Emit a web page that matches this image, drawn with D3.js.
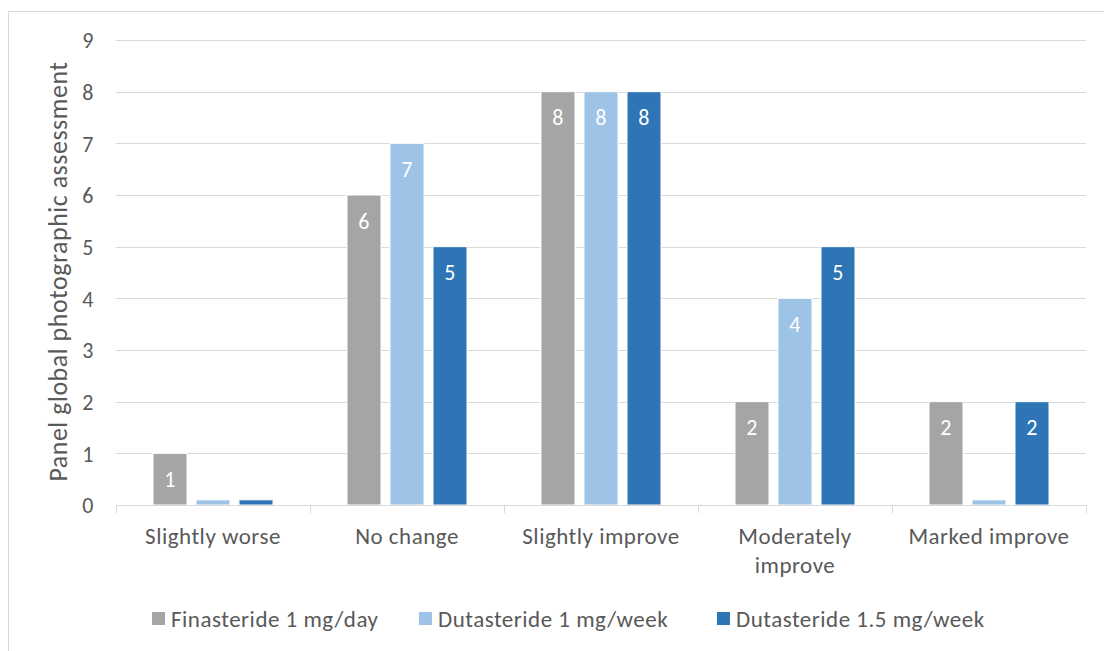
<!DOCTYPE html>
<html>
<head>
<meta charset="utf-8">
<script src="https://cdn.jsdelivr.net/npm/d3@7"></script>
<style>
  html, body { margin: 0; padding: 0; background: #ffffff; }
  svg { display: block; }
  text { font-family: Carlito, Calibri, Lato, "Open Sans", sans-serif; letter-spacing: 0.5px; }
</style>
</head>
<body>
<svg id="chart" width="1104" height="651"></svg>
<script>
// Response categories on the x axis
const categories = [
  ["Slightly worse"],
  ["No change"],
  ["Slightly improve"],
  ["Moderately", "improve"],
  ["Marked improve"]
];
const seriesNames = ["Finasteride 1 mg/day", "Dutasteride 1 mg/week", "Dutasteride 1.5 mg/week"];
const seriesColors = ["#a5a5a5", "#9dc3e6", "#2e75b6"];
// Counts per category; zero counts are drawn as a thin stub and left unlabeled
const finasteride1 = [1, 6, 8, 2, 2];
const dutasteride1 = [0, 7, 8, 4, 0];
const dutasteride15 = [0, 5, 8, 5, 2];
const yTicks = [0, 1, 2, 3, 4, 5, 6, 7, 8, 9];
const yLabel = "Panel global photographic assessment";

const series = [finasteride1, dutasteride1, dutasteride15];
const svg = d3.select("#chart");

// chart frame
svg.append("rect")
  .attr("x", 8.5).attr("y", 11.5)
  .attr("width", 1110).attr("height", 660)
  .attr("fill", "none").attr("stroke", "#d9d9d9").attr("stroke-width", 1);

const plot = { left: 116, right: 1086, top: 40, bottom: 505 };

const x0 = d3.scaleBand()
  .domain(d3.range(categories.length))
  .range([plot.left, plot.right])
  .paddingInner(0).paddingOuter(0);

const x1 = d3.scaleBand()
  .domain(d3.range(series.length))
  .range([37, x0.bandwidth() - 37])
  .paddingInner(9 / 43).paddingOuter(0);

const y = d3.scaleLinear().domain([0, 9]).range([plot.bottom, plot.top]);

// horizontal gridlines
svg.append("g")
  .selectAll("line")
  .data(yTicks.filter(t => t > 0))
  .join("line")
  .attr("x1", plot.left).attr("x2", plot.right)
  .attr("y1", d => Math.round(y(d)) + 0.5).attr("y2", d => Math.round(y(d)) + 0.5)
  .attr("stroke", "#d9d9d9").attr("stroke-width", 1);

// y axis labels
const yAxis = d3.axisLeft(y).tickValues(yTicks).tickSize(0).tickPadding(0);
const yg = svg.append("g").attr("transform", `translate(${plot.left - 22},0)`).call(yAxis);
yg.select(".domain").remove();
yg.selectAll("text")
  .attr("fill", "#595959")
  .style("font-family", "Carlito, Calibri, Lato, sans-serif")
  .style("font-size", "22px")
  .attr("dy", "0.35em");

// bars
const groups = svg.append("g")
  .selectAll("g")
  .data(series)
  .join("g")
  .attr("fill", (d, i) => seriesColors[i]);

groups.each(function (vals, si) {
  const g = d3.select(this);
  vals.forEach((v, ci) => {
    const shown = v === 0 ? 0.1 : v;
    const bx = x0(ci) + x1(si);
    g.append("rect")
      .attr("x", bx)
      .attr("y", y(shown))
      .attr("width", x1.bandwidth())
      .attr("height", y(0) - y(shown))
      .attr("stroke", "#ffffff")
      .attr("stroke-width", 1);
    if (v > 0) {
      g.append("text")
        .attr("x", bx + x1.bandwidth() / 2)
        .attr("y", y(v) + 26)
        .attr("dy", "0.35em")
        .attr("text-anchor", "middle")
        .attr("fill", "#ffffff")
        .style("font-size", "22px")
        .text(v);
    }
  });
});

// x axis line and category separators
const xg = svg.append("g");
xg.append("line")
  .attr("x1", plot.left).attr("x2", plot.right)
  .attr("y1", plot.bottom + 0.5).attr("y2", plot.bottom + 0.5)
  .attr("stroke", "#d9d9d9").attr("stroke-width", 1);
xg.selectAll("line.sep")
  .data(d3.range(categories.length + 1))
  .join("line")
  .attr("class", "sep")
  .attr("x1", i => Math.round(plot.left + i * x0.bandwidth()) + 0.5)
  .attr("x2", i => Math.round(plot.left + i * x0.bandwidth()) + 0.5)
  .attr("y1", plot.bottom).attr("y2", plot.bottom + 8)
  .attr("stroke", "#d9d9d9").attr("stroke-width", 1);

// category labels
xg.selectAll("text.cat")
  .data(categories)
  .join("text")
  .attr("class", "cat")
  .attr("x", (d, i) => x0(i) + x0.bandwidth() / 2)
  .attr("y", 544)
  .attr("text-anchor", "middle")
  .attr("fill", "#595959")
  .style("font-size", "23px")
  .each(function (lines) {
    const t = d3.select(this);
    lines.forEach((ln, k) => {
      t.append("tspan")
        .attr("x", t.attr("x"))
        .attr("dy", k === 0 ? 0 : 29)
        .text(ln);
    });
  });

// y axis title
svg.append("text")
  .attr("transform", `translate(67,${(plot.top + plot.bottom) / 2 - 1}) rotate(-90)`)
  .attr("text-anchor", "middle")
  .attr("fill", "#595959")
  .style("font-size", "26px")
  .text(yLabel);

// legend
const legendX = [152, 419, 717];
const legend = svg.append("g")
  .selectAll("g")
  .data(seriesNames)
  .join("g")
  .attr("transform", (d, i) => `translate(${legendX[i]},612)`);
legend.append("rect")
  .attr("width", 13).attr("height", 13)
  .attr("fill", (d, i) => seriesColors[i]);
legend.append("text")
  .attr("x", 19).attr("y", 6.5)
  .attr("dy", "0.35em")
  .attr("fill", "#595959")
  .style("font-size", "23px")
  .text(d => d);
</script>
</body>
</html>
